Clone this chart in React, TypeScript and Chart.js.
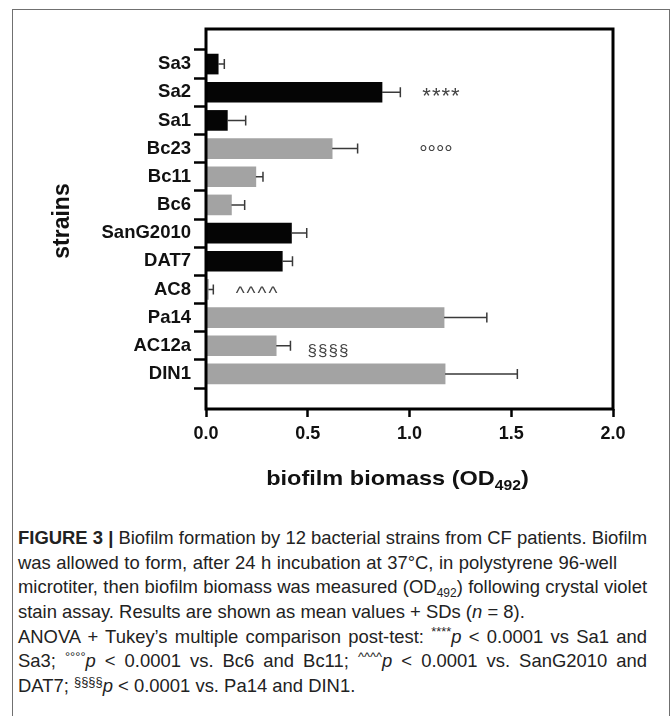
import React, { useEffect, useLayoutEffect, useRef } from 'react';
import { Chart, registerables } from 'chart.js';

Chart.register(...registerables);

// ---------- data ----------
const strains = ['Sa3', 'Sa2', 'Sa1', 'Bc23', 'Bc11', 'Bc6', 'SanG2010', 'DAT7', 'AC8', 'Pa14', 'AC12a', 'DIN1'];
const meanOD = [0.06, 0.865, 0.105, 0.62, 0.245, 0.125, 0.42, 0.375, 0.012, 1.17, 0.345, 1.175];
const sdOD = [0.03, 0.09, 0.09, 0.125, 0.035, 0.065, 0.075, 0.05, 0.024, 0.21, 0.07, 0.355];
const darkStrains = ['Sa3', 'Sa2', 'Sa1', 'SanG2010', 'DAT7'];
const xTickValues = [0, 0.5, 1.0, 1.5, 2.0];
const markStrains = ['Sa2', 'Bc23', 'AC8', 'AC12a'];
const markSymbols = ['****', '°°°°', '^^^^', '§§§§'];
const markValues = [1.157, 1.13, 0.253, 0.602];

const FONT = '"Liberation Sans", Arial, Helvetica, sans-serif';
const CW = 672;
const CH = 510;

const markFont: Record<string, [number, string]> = {
  '*': [22, '1px'],
  '°': [21, '0px'],
  '^': [19, '2px'],
  '§': [17, '1px'],
};

const decorPlugin = {
  id: 'decor',
  afterDatasetsDraw(chart: any) {
    const { ctx, chartArea: a, scales } = chart;
    const x = scales.x;
    const y = scales.y;
    ctx.save();
    // error bars (mean + SD)
    ctx.strokeStyle = '#3a3a3a';
    ctx.lineWidth = 1.5;
    strains.forEach((_, i) => {
      const py = y.getPixelForValue(i);
      const x0 = x.getPixelForValue(meanOD[i]);
      const x1 = x.getPixelForValue(meanOD[i] + sdOD[i]);
      ctx.beginPath();
      ctx.moveTo(x0, py);
      ctx.lineTo(x1, py);
      ctx.moveTo(x1, py - 5);
      ctx.lineTo(x1, py + 5);
      ctx.stroke();
    });
    // significance marks
    ctx.fillStyle = '#444';
    ctx.textAlign = 'center';
    ctx.textBaseline = 'alphabetic';
    markStrains.forEach((s, k) => {
      const idx = strains.indexOf(s);
      const sym = markSymbols[k];
      const [size, spacing] = markFont[sym[0]] || [16, '1px'];
      const py = y.getPixelForValue(idx) + (sym[0] === '§' ? 5 : 0);
      const px = x.getPixelForValue(markValues[k]);
      ctx.font = `${size}px ${FONT}`;
      try { (ctx as any).letterSpacing = spacing; } catch (e) {}
      const m = ctx.measureText(sym);
      const base = py + (m.actualBoundingBoxAscent - m.actualBoundingBoxDescent) / 2;
      ctx.fillText(sym, px, base);
    });
    try { (ctx as any).letterSpacing = '0px'; } catch (e) {}
    // plot box
    ctx.strokeStyle = '#000';
    ctx.lineWidth = 3;
    ctx.strokeRect(a.left, a.top, a.right - a.left, a.bottom - a.top);
    ctx.restore();
  },
  afterDraw(chart: any) {
    const { ctx, chartArea: a } = chart;
    ctx.save();
    ctx.fillStyle = '#111';
    // x axis title with subscript
    ctx.translate((a.left + a.right) / 2 - 12, 485);
    ctx.scale(1.12, 1);
    const big = `bold 21px ${FONT}`;
    const small = `bold 14px ${FONT}`;
    ctx.textAlign = 'left';
    ctx.textBaseline = 'alphabetic';
    ctx.font = big;
    const w1 = ctx.measureText('biofilm biomass (OD').width;
    const w3 = ctx.measureText(')').width;
    ctx.font = small;
    const w2 = ctx.measureText('492').width;
    let sx = -(w1 + w2 + w3) / 2;
    ctx.font = big;
    ctx.fillText('biofilm biomass (OD', sx, 0);
    sx += w1;
    ctx.font = small;
    ctx.fillText('492', sx, 5);
    sx += w2;
    ctx.font = big;
    ctx.fillText(')', sx, 0);
    ctx.restore();

    // y axis title
    ctx.save();
    ctx.fillStyle = '#111';
    ctx.translate(63, (a.top + a.bottom) / 2 + 2);
    ctx.rotate(-Math.PI / 2);
    ctx.font = `bold 23px ${FONT}`;
    ctx.textAlign = 'center';
    ctx.textBaseline = 'middle';
    ctx.fillText('strains', 0, 0);
    ctx.restore();
  },
};

function BiofilmChart() {
  const ref = useRef<HTMLCanvasElement | null>(null);
  useEffect(() => {
    if (!ref.current) return;
    const chart = new Chart(ref.current, {
      type: 'bar',
      data: {
        datasets: [
          {
            data: meanOD.map((v, i) => ({ x: v, y: i })) as any,
            backgroundColor: strains.map((s) => (darkStrains.includes(s) ? '#050505' : '#a3a3a3')),
            borderWidth: 0,
            barThickness: 20,
          },
        ],
      },
      options: {
        indexAxis: 'y',
        responsive: false,
        animation: false,
        layout: { padding: { left: 0, right: CW - 613, top: 29, bottom: 0 } },
        plugins: { legend: { display: false }, tooltip: { enabled: false } },
        scales: {
          x: {
            type: 'linear',
            min: xTickValues[0],
            max: xTickValues[xTickValues.length - 1],
            afterBuildTicks: (s: any) => {
              s.ticks = xTickValues.map((v) => ({ value: v }));
            },
            afterFit: (s: any) => {
              s.height = CH - 409;
            },
            border: { display: false },
            grid: {
              display: true,
              drawOnChartArea: false,
              drawTicks: true,
              tickLength: 8,
              tickWidth: 2.5,
              tickColor: '#000',
              color: '#000',
            },
            ticks: {
              padding: 6,
              color: '#111',
              font: { family: FONT, size: 18, weight: 'bold' },
              callback: (v: any) => Number(v).toFixed(1),
              maxRotation: 0,
            },
          },
          y: {
            type: 'linear',
            reverse: true,
            min: -0.683,
            max: strains.length - 1 + 0.683,
            afterBuildTicks: (s: any) => {
              s.ticks = strains.map((_, i) => ({ value: i }));
            },
            afterFit: (s: any) => {
              s.width = 206;
            },
            border: { display: false },
            grid: {
              display: true,
              drawOnChartArea: false,
              drawTicks: true,
              tickLength: 12,
              tickWidth: 2.5,
              tickColor: '#000',
              color: '#000',
            },
            ticks: {
              autoSkip: false,
              padding: 3,
              color: '#111',
              font: { family: FONT, size: 18.5, weight: 'bold' },
              callback: (v: any) => strains[Math.round(Number(v))] ?? '',
            },
          },
        },
      },
      plugins: [decorPlugin],
    } as any);
    return () => chart.destroy();
  }, []);
  return <canvas ref={ref} width={CW} height={CH} style={{ position: 'absolute', left: 0, top: 0, width: CW, height: CH }} />;
}

const supStyle: React.CSSProperties = { fontSize: '0.7em', position: 'relative', top: '-0.5em', verticalAlign: 'baseline', lineHeight: 0 };
const subStyle: React.CSSProperties = { fontSize: '0.65em', position: 'relative', top: '0.3em', verticalAlign: 'baseline', lineHeight: 0 };

// final on-screen widths of each caption line (px); 0 = natural width
const lineWidths = [629, 599, 629, 487, 629, 629, 0];

function Caption() {
  const ref = useRef<HTMLDivElement | null>(null);
  const lineRefs = useRef<(HTMLDivElement | null)[]>([]);
  useLayoutEffect(() => {
    const el = ref.current;
    const lines = lineRefs.current;
    if (!el || !lines[0]) return;
    const probe = lines[0].firstElementChild as HTMLElement | null;
    const w = probe ? probe.getBoundingClientRect().width : 0;
    if (w > 0) {
      const s = 629 / w;
      el.style.transform = `scaleX(${s})`;
      lines.forEach((ln, i) => {
        if (ln && lineWidths[i] > 0) {
          ln.style.width = `${lineWidths[i] / s}px`;
          ln.style.textAlign = 'justify';
          (ln.style as any).textAlignLast = 'justify';
        }
      });
    }
  }, []);
  const ls: React.CSSProperties = { height: '24.7px' };
  const setRef = (i: number) => (node: HTMLDivElement | null) => {
    lineRefs.current[i] = node;
  };
  return (
    <div
      ref={ref}
      style={{
        position: 'absolute',
        left: 18,
        top: 526,
        fontFamily: '"Liberation Sans", Arial, sans-serif',
        fontSize: 18.5,
        lineHeight: '24.7px',
        color: '#222',
        whiteSpace: 'nowrap',
        transformOrigin: 'left top',
      }}
    >
      <div ref={setRef(0)} style={ls}>
        <span>
          <b>FIGURE 3 |</b> Biofilm formation by 12 bacterial strains from CF patients. Biofilm
        </span>
      </div>
      <div ref={setRef(1)} style={ls}>was allowed to form, after 24 h incubation at 37°C, in polystyrene 96-well</div>
      <div ref={setRef(2)} style={ls}>
        microtiter, then biofilm biomass was measured (OD<span style={subStyle}>492</span>) following crystal violet
      </div>
      <div ref={setRef(3)} style={ls}>
        stain assay. Results are shown as mean values + SDs (<i>n</i> = 8).
      </div>
      <div ref={setRef(4)} style={ls}>
        ANOVA + Tukey’s multiple comparison post-test: <span style={supStyle}>****</span>
        <i>p</i> &lt; 0.0001 vs Sa1 and
      </div>
      <div ref={setRef(5)} style={ls}>
        Sa3; <span style={supStyle}>°°°°</span>
        <i>p</i> &lt; 0.0001 vs. Bc6 and Bc11; <span style={supStyle}>^^^^</span>
        <i>p</i> &lt; 0.0001 vs. SanG2010 and
      </div>
      <div ref={setRef(6)} style={ls}>
        DAT7; <span style={supStyle}>§§§§</span>
        <i>p</i> &lt; 0.0001 vs. Pa14 and DIN1.
      </div>
    </div>
  );
}

export default function App() {
  return (
    <div style={{ position: 'absolute', left: 0, top: 0, width: 672, height: 716, overflow: 'hidden', background: '#fff' }}>
      <div
        style={{
          position: 'absolute',
          left: 12,
          top: 9,
          width: 658,
          height: 760,
          boxSizing: 'border-box',
          border: '1.5px solid #707070',
        }}
      />
      <BiofilmChart />
      <Caption />
    </div>
  );
}
